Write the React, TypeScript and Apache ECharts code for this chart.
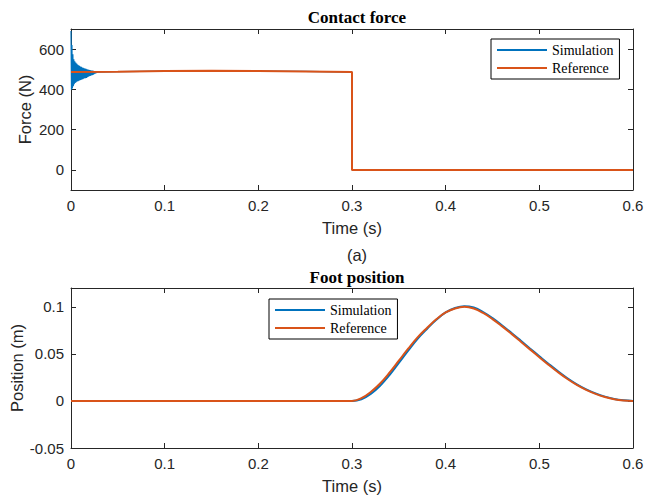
import React, { useEffect, useRef } from "react";
import * as echarts from "echarts";

// ---- data ----
const timeTicks = [0, 0.1, 0.2, 0.3, 0.4, 0.5, 0.6];
const forceTicks = [0, 200, 400, 600];
const positionTicks = [-0.05, 0, 0.05, 0.1];

// initial impact oscillation of the simulated contact force (sampled every 0.5 ms)
const oscStep = 0.0005;
const oscForce = [
  690, 398, 620, 405, 575, 415, 550, 425, 540, 432,
  533, 436, 528, 439, 524, 441, 520, 443, 517, 445,
  514, 447, 512, 449, 509, 451, 507, 453, 505, 455,
  503, 456, 502, 457, 500, 460, 499, 463, 497, 465,
  496, 467, 495, 469, 494, 470, 493, 472, 492, 475,
  491, 478, 490, 480, 489, 482, 488, 484, 487, 485,
  486,
];
const simForceTailTimes = [0.05, 0.1, 0.15, 0.2, 0.25, 0.3, 0.3, 0.6];
const simForceTail = [488, 491, 492, 491, 489, 486, 0, 0];

const refForceTimes = [0, 0.05, 0.1, 0.15, 0.2, 0.25, 0.3, 0.3, 0.6];
const refForce = [486, 488, 491, 492, 491, 489, 486, 0, 0];

const posTimes = [
  0, 0.3, 0.31, 0.32, 0.33, 0.34, 0.35, 0.36, 0.37, 0.38, 0.39, 0.4, 0.41, 0.42,
  0.43, 0.44, 0.45, 0.46, 0.47, 0.48, 0.49, 0.5, 0.51, 0.52, 0.53, 0.54, 0.55,
  0.56, 0.57, 0.58, 0.59, 0.6,
];
const simPos = [
  0, 0, 0.0018, 0.0075, 0.0162, 0.0275, 0.0405, 0.0535, 0.066, 0.0765, 0.0862,
  0.094, 0.0987, 0.1007, 0.0992, 0.0945, 0.088, 0.0805, 0.0725, 0.0642, 0.0558,
  0.0475, 0.0393, 0.0314, 0.0241, 0.0177, 0.0123, 0.008, 0.0046, 0.0021, 0.0007, 0,
];
const refPos = [
  0, 0, 0.003, 0.0095, 0.0185, 0.03, 0.0428, 0.0555, 0.0675, 0.0775, 0.0868,
  0.094, 0.0983, 0.1, 0.0982, 0.0935, 0.087, 0.0795, 0.0715, 0.0632, 0.0548,
  0.0465, 0.0383, 0.0305, 0.0233, 0.017, 0.0117, 0.0075, 0.0042, 0.0018, 0.0005, 0,
];

const BLUE = "#0072BD";
const ORANGE = "#D95319";
const AXIS = "#262626";
const SANS = "'Liberation Sans', Arial, sans-serif";
const SERIF = "'Liberation Serif', 'Times New Roman', serif";

const fmt = (v: number) => String(Number(v.toFixed(3)));

function xAxes(gridIndex: number) {
  const common = {
    type: "value" as const,
    gridIndex,
    min: timeTicks[0],
    max: timeTicks[timeTicks.length - 1],
    splitLine: { show: false },
    axisLine: { show: true, onZero: false, lineStyle: { color: AXIS, width: 1 } },
    axisTick: { show: true, inside: true, length: 5, customValues: timeTicks, lineStyle: { color: AXIS } },
  };
  return [
    {
      ...common,
      position: "bottom",
      name: "Time (s)",
      nameLocation: "middle",
      nameGap: 29,
      nameMoveOverlap: false,
      nameTextStyle: { fontFamily: SANS, fontSize: 16.5, color: AXIS },
      axisLabel: {
        show: true,
        margin: 8,
        fontFamily: SANS,
        fontSize: 15,
        color: AXIS,
        customValues: timeTicks,
        formatter: fmt,
      },
    },
    { ...common, position: "top", axisLabel: { show: false } },
  ];
}

function yAxes(gridIndex: number, min: number, max: number, ticks: number[], name: string, nameGap: number) {
  const common = {
    type: "value" as const,
    gridIndex,
    min,
    max,
    splitLine: { show: false },
    axisLine: { show: true, onZero: false, lineStyle: { color: AXIS, width: 1 } },
    axisTick: { show: true, inside: true, length: 5, customValues: ticks, lineStyle: { color: AXIS } },
  };
  return [
    {
      ...common,
      position: "left",
      name,
      nameLocation: "middle",
      nameGap,
      nameMoveOverlap: false,
      nameTextStyle: { fontFamily: SANS, fontSize: 16.5, color: AXIS },
      axisLabel: {
        show: true,
        margin: 7,
        fontFamily: SANS,
        fontSize: 15,
        color: AXIS,
        customValues: ticks,
        formatter: fmt,
      },
    },
    { ...common, position: "right", axisLabel: { show: false } },
  ];
}

function legend(left: number, top: number) {
  return {
    orient: "vertical",
    left,
    top,
    padding: [4, 6, 4, 5],
    itemGap: 4,
    itemWidth: 50,
    itemHeight: 14,
    backgroundColor: "#fff",
    borderColor: "#000",
    borderWidth: 1,
    borderRadius: 0,
    selectedMode: false,
    itemStyle: { opacity: 0 },
    lineStyle: { width: 2 },
    data: ["Simulation", "Reference"],
    textStyle: { fontFamily: SERIF, fontSize: 14, color: "#000" },
  };
}

export default function App() {
  const ref = useRef<HTMLDivElement>(null);

  useEffect(() => {
    if (!ref.current) return;
    const chart = echarts.init(ref.current, undefined, { renderer: "svg" });

    const simForceData: number[][] = oscForce.map((v, i) => [i * oscStep, v]);
    simForceTailTimes.forEach((t, i) => simForceData.push([t, simForceTail[i]]));
    const refForceData = refForceTimes.map((t, i) => [t, refForce[i]]);
    const simPosData = posTimes.map((t, i) => [t, simPos[i]]);
    const refPosData = posTimes.map((t, i) => [t, refPos[i]]);

    chart.setOption({
      animation: false,
      backgroundColor: "#fff",
      title: [
        {
          text: "Contact force",
          left: 352,
          top: 4,
          textAlign: "center",
          textStyle: { fontFamily: SERIF, fontWeight: "bold", fontSize: 17, color: "#000" },
        },
        {
          text: "(a)",
          left: 352,
          top: 241,
          textAlign: "center",
          textStyle: { fontFamily: SANS, fontWeight: "normal", fontSize: 16.5, color: AXIS },
        },
        {
          text: "Foot position",
          left: 352,
          top: 264,
          textAlign: "center",
          textStyle: { fontFamily: SERIF, fontWeight: "bold", fontSize: 17, color: "#000" },
        },
      ],
      legend: [legend(491, 39), legend(269, 299)],
      grid: [
        { left: 71, top: 29, width: 562, height: 161, containLabel: false, outerBoundsMode: "none" },
        { left: 71, top: 288, width: 562, height: 160, containLabel: false, outerBoundsMode: "none" },
      ],
      xAxis: [...xAxes(0), ...xAxes(1)],
      yAxis: [
        ...yAxes(0, -100, 700, forceTicks, "Force (N)", 38),
        ...yAxes(1, -0.05, 0.12, positionTicks, "Position (m)", 46),
      ],
      series: [
        {
          name: "Simulation",
          type: "line",
          xAxisIndex: 0,
          yAxisIndex: 0,
          data: simForceData,
          showSymbol: false,
          symbol: "none",
          lineStyle: { color: BLUE, width: 1.2 },
          itemStyle: { color: BLUE },
        },
        {
          name: "Reference",
          type: "line",
          xAxisIndex: 0,
          yAxisIndex: 0,
          data: refForceData,
          showSymbol: false,
          symbol: "none",
          lineStyle: { color: ORANGE, width: 2 },
          itemStyle: { color: ORANGE },
        },
        {
          name: "Simulation",
          type: "line",
          xAxisIndex: 2,
          yAxisIndex: 2,
          data: simPosData,
          smooth: 0.4,
          showSymbol: false,
          symbol: "none",
          lineStyle: { color: BLUE, width: 2 },
          itemStyle: { color: BLUE },
        },
        {
          name: "Reference",
          type: "line",
          xAxisIndex: 2,
          yAxisIndex: 2,
          data: refPosData,
          smooth: 0.4,
          showSymbol: false,
          symbol: "none",
          lineStyle: { color: ORANGE, width: 2 },
          itemStyle: { color: ORANGE },
        },
      ],
    });

    return () => chart.dispose();
  }, []);

  return (
    <div
      ref={ref}
      style={{ position: "absolute", left: 0, top: 0, width: 657, height: 500 }}
    />
  );
}
